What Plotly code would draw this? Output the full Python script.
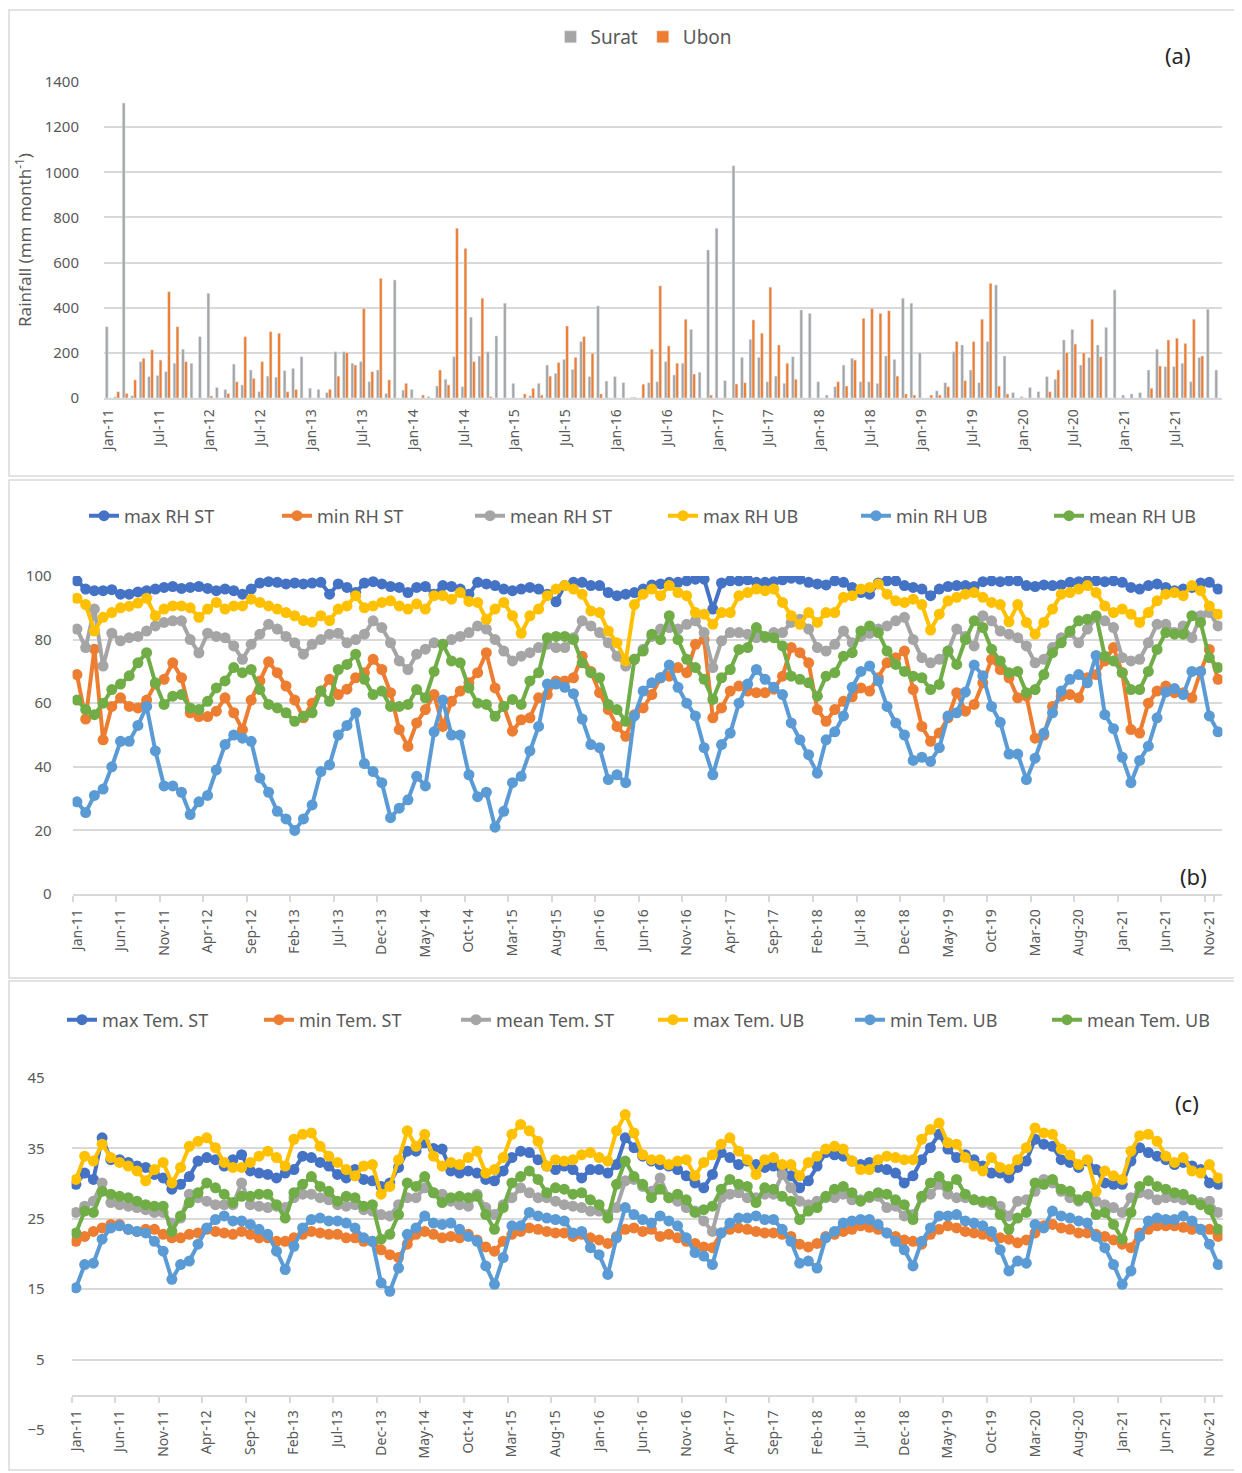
import plotly.graph_objects as go

# page is 1242x1473; the html body adds an 8px margin, so the figure is 8px smaller
# and all pixel positions below are given in page pixels
OFF = 8
W, H = 1242 - OFF, 1473 - OFF

mon_names = ["Jan", "Feb", "Mar", "Apr", "May", "Jun", "Jul", "Aug", "Sep", "Oct", "Nov", "Dec"]
months = [f"{m}-{y}" for y in range(11, 22) for m in mon_names]

# (a) monthly rainfall, mm
rain_surat = [316, 5, 1307, 10, 161, 95, 100, 117, 154, 216, 154, 272,
              464, 47, 38, 150, 58, 124, 28, 97, 92, 121, 131, 183,
              43, 38, 24, 205, 205, 154, 161, 72, 124, 20, 523, 35,
              38, 0, 6, 53, 83, 183, 50, 358, 186, 205, 275, 420,
              65, 0, 10, 65, 146, 109, 171, 127, 250, 95, 408, 75,
              95, 68, 3, 0, 68, 72, 161, 102, 154, 304, 114, 656,
              752, 77, 1029, 180, 260, 180, 72, 97, 65, 183, 390, 375,
              72, 13, 50, 146, 176, 72, 72, 65, 186, 171, 442, 420,
              201, 0, 32, 68, 205, 235, 124, 68, 250, 501, 186, 24,
              6, 47, 28, 95, 83, 257, 304, 146, 180, 235, 313, 479,
              13, 18, 24, 124, 216, 139, 139, 154, 72, 180, 393, 124]
rain_ubon = [0, 28, 20, 80, 176, 213, 168, 471, 316, 161, 0, 0,
             9, 0, 20, 72, 272, 87, 161, 294, 287, 28, 38, 0,
             0, 0, 38, 97, 201, 146, 397, 117, 530, 80, 0, 65,
             0, 13, 0, 124, 58, 752, 663, 161, 442, 6, 0, 0,
             0, 18, 43, 13, 97, 157, 319, 180, 272, 198, 18, 0,
             0, 0, 3, 61, 216, 497, 231, 154, 349, 106, 0, 13,
             0, 0, 62, 68, 346, 287, 491, 235, 154, 83, 0, 0,
             0, 0, 72, 53, 168, 353, 397, 375, 387, 97, 18, 13,
             0, 13, 13, 50, 250, 77, 250, 349, 508, 53, 18, 0,
             0, 0, 0, 28, 124, 201, 239, 201, 349, 183, 0, 0,
             0, 0, 0, 43, 142, 257, 265, 242, 349, 186, 0, 0]

# (b) relative humidity, %
max_rh_st = [98.5, 95.9, 95.4, 95.4, 95.7, 94.3, 94.3, 95, 95.4, 95.9, 96.4, 96.7,
             96.1, 96.4, 96.7, 96.1, 95.4, 95.9, 95.4, 94.3, 95.9, 97.8, 98.2, 98,
             97.5, 97.8, 97.5, 97.8, 98, 94.3, 97.5, 96.4, 94.8, 97.8, 98.2, 97.5,
             96.7, 96.4, 94.8, 96.4, 96.7, 94.3, 97, 96.7, 95.9, 94.3, 98, 97.5,
             97, 95.9, 95.4, 95.9, 96.4, 95.9, 94.3, 91.9, 97, 98, 98, 97,
             97, 94.8, 93.8, 94.3, 94.8, 95.9, 97.2, 97.5, 98, 98, 98.5, 99,
             99, 89.6, 97.8, 98.5, 98.5, 98.8, 98, 98, 98.2, 98.8, 99.3, 99,
             98, 97.5, 97.2, 98.5, 98, 96.4, 94.8, 94.3, 97.8, 98.5, 98.5, 97,
             96.4, 95.9, 93.8, 95.9, 96.7, 97, 97, 96.7, 98.2, 98.5, 98.2, 98.5,
             98.5, 97, 96.7, 97.2, 97, 97.2, 98, 98.2, 98.5, 98.5, 98.2, 98.5,
             98, 96.4, 95.9, 97, 97.5, 96.4, 95.4, 95.9, 96.4, 97.8, 98, 95.9]
min_rh_st = [69, 55, 77, 48.5, 59, 61.7, 59, 58.5, 61, 66, 67.5, 72.7,
             68, 57, 55.8, 55.8, 57.5, 61.7, 57, 51.7, 61, 67, 73, 69.6,
             65.4, 61, 55.4, 60, 63.8, 67.5, 62.7, 64.4, 68, 69.6, 73.8, 70.6,
             63.3, 51.7, 46.4, 53.8, 58, 62.7, 52.7, 60.6, 63.8, 66.4, 69.6, 75.9,
             64.8, 59, 51.2, 54.8, 55.4, 61.7, 62.7, 67, 67, 68, 74.8, 70,
             63.3, 58, 52.7, 49.6, 56.4, 58.5, 62.7, 68, 68.5, 71.2, 69.6, 78.5,
             80, 55.4, 58.5, 63.8, 65.4, 63.8, 63.3, 63.3, 64.4, 68.5, 77.5, 75.9,
             72.7, 58, 54.3, 58, 60.6, 62, 64.8, 63.8, 68, 72.7, 74.3, 76.4,
             64.3, 52.7, 48, 50.6, 55.4, 63.3, 57.5, 59.6, 66.4, 73.8, 70.6, 68,
             61.7, 62.2, 49, 50, 59, 62.2, 62.7, 61.7, 68, 69, 73.3, 77.5,
             69.6, 51.7, 50.6, 60, 63.8, 65.4, 63.3, 63.3, 61.7, 70, 76.9, 67.5]
mean_rh_st = [83.3, 77.5, 89.6, 71.7, 82, 79.6, 80.6, 81, 82.7, 84.3, 85.4, 85.9,
              85.9, 80, 75.8, 82, 81, 80.6, 78, 73.8, 78.5, 81.7, 84.8, 83.3,
              81, 79, 75.4, 78.5, 80, 81.7, 82, 79, 80, 81.7, 85.9, 83.8,
              79, 73.3, 70.6, 75.4, 77, 79, 78.5, 80, 81, 82.2, 84.3, 83.3,
              80, 76.4, 73.3, 74.8, 75.9, 77.5, 78.5, 77.5, 77.5, 80.6, 85.9, 84.3,
              82.2, 79, 74.8, 71.7, 73.8, 77, 81, 83.3, 83.8, 83.3, 84.8, 85.9,
              82.2, 71.2, 79.6, 82.2, 82.2, 81.7, 80.6, 80.6, 82.2, 82.2, 85.4, 86.4,
              83.3, 77.5, 76.4, 78.5, 82.7, 79, 81, 82, 83.3, 84.3, 85.9, 87,
              80, 74.3, 72.7, 73.8, 76.4, 83.3, 81, 78, 87.5, 85.9, 82.7, 81.7,
              80.6, 78, 72.7, 73.8, 77.5, 80.6, 82.2, 79, 83.3, 87, 85.9, 83.8,
              74.3, 73.3, 73.8, 79, 84.8, 84.8, 82.2, 84.3, 80.6, 87.5, 88.5, 84.3]
max_rh_ub = [93, 91, 82.7, 87, 88.5, 90, 90.5, 91.5, 93, 87.5, 89.6, 90.6,
             90.6, 90, 87, 89.6, 91.7, 89.6, 90.6, 90.6, 92.7, 91.7, 90.6, 89.6,
             88.5, 87.5, 86, 85.5, 87.5, 86, 89.6, 90.6, 93.8, 90, 90.6, 91.7,
             92.2, 90.6, 89.6, 91.2, 89.6, 93.8, 93.8, 92.7, 94.8, 92, 91.7, 86.4,
             89.6, 91.7, 87.5, 82, 87.5, 89.6, 93.8, 95.9, 97, 95.9, 94.3, 89,
             88.5, 82.7, 79, 73.3, 91, 94.3, 95.9, 93.8, 97, 94.8, 93.8, 88.5,
             88, 84.8, 88.5, 88.5, 93.8, 94.8, 95.9, 95.4, 95.9, 91.7, 87.5, 84.8,
             88.5, 85.4, 88.5, 88.5, 93.3, 93.8, 95.9, 96.4, 97.5, 94.3, 92.2, 91.7,
             92.7, 91, 83, 88, 92.2, 93.3, 94.3, 94.8, 93.3, 91.7, 91, 85.6,
             91, 85.4, 81.7, 85.4, 89.6, 94.3, 94.8, 95.9, 97, 94.8, 90.6, 88.5,
             89.6, 88, 85.4, 88.5, 92.2, 94.3, 94.8, 93.8, 97, 95.4, 90.6, 88]
min_rh_ub = [29, 25.6, 31, 33, 40, 48, 48, 53, 59, 45, 34, 34,
             32, 25, 29, 31, 39, 47, 50, 49, 48, 36.5, 32, 26,
             23.6, 20, 23.6, 28, 38.5, 40.6, 50, 53, 57, 41, 38.5, 35,
             24, 27, 29.6, 37, 34, 51, 61, 50, 50, 37.5, 30.6, 32,
             21, 26, 35, 37, 45, 52.7, 66, 66, 65, 63, 55, 47,
             46, 36, 37.5, 35, 56, 63.8, 66.4, 68, 72, 65, 60, 56,
             46, 37.5, 47, 50.6, 60, 66, 70.6, 67.5, 65, 62.7, 53.8, 48.5,
             43.8, 38, 48.5, 51, 56, 65, 70, 71.7, 67, 59, 53.8, 50,
             42, 43, 41.7, 46, 56, 57, 63.5, 72, 68.6, 59, 54, 44,
             44, 36, 42.7, 50.6, 57, 63.8, 67.5, 69, 66.4, 75, 56.4, 52,
             43, 35, 42, 46.5, 55.4, 63.5, 64.6, 62.7, 70, 70, 56, 51]
mean_rh_ub = [61, 58, 56.4, 60, 64.3, 66, 68.6, 72.7, 75.9, 66.4, 59.6, 62.2,
              62.7, 58.5, 58, 60.6, 64.8, 67, 71.2, 69.6, 70.6, 64.3, 59.6, 58.5,
              57, 54.3, 55.9, 57, 63.8, 60.6, 70.6, 72.2, 75.4, 67.5, 62.7, 63.8,
              59, 59, 59.6, 64.3, 61.7, 70, 78.5, 73.3, 72.7, 64.8, 60, 59.6,
              55.9, 59, 61.2, 59.6, 67, 69.6, 80.6, 81, 81, 80, 72.7, 69.6,
              68, 59.6, 58, 54.3, 73.8, 76.4, 81.7, 80, 87.5, 80, 73.8, 71.2,
              67.5, 61.2, 68, 70.6, 76.9, 77.5, 83.8, 81, 80.6, 78, 68.5, 67.5,
              66.4, 62.2, 68.5, 69.6, 74.8, 75.9, 82.7, 84.3, 82.2, 76.4, 72.2, 70,
              68.5, 68, 64.3, 65.9, 76.4, 72.2, 80, 85.9, 83.8, 77, 73.3, 69.6,
              70, 63.3, 64.3, 69, 75.9, 79, 82.7, 85.9, 86.4, 87.5, 74.8, 73.3,
              69.6, 64.3, 64.3, 70, 76.9, 82.2, 81.7, 81.7, 87.5, 85.4, 74.3, 71.2]

# (c) air temperature, degC
max_tem_st = [29.9, 31.5, 30.6, 36.5, 33.4, 33.4, 33, 32.5, 32.3, 31.3, 30.8, 29.2,
              29.9, 31, 33.2, 33.7, 33.4, 32.5, 33.4, 34.1, 31.8, 31.5, 31.3, 30.8,
              31.5, 32, 33.9, 33.7, 33, 32.5, 31.3, 30.8, 32, 30.6, 30.4, 29.6,
              30.1, 32.3, 34.6, 34.6, 35.8, 35, 34.9, 31.8, 31.5, 31.8, 31.5, 30.6,
              30.4, 31.8, 33.7, 34.6, 34.4, 33.4, 32.5, 32, 32.5, 32, 30.8, 32,
              32, 31.5, 32.7, 36.5, 35.1, 33.9, 33.2, 32.7, 32.5, 32, 31.1, 30.1,
              29.4, 31.3, 34.4, 33.7, 32.7, 33.2, 32.7, 32.3, 32.5, 32, 31.1, 29.4,
              30.4, 32.5, 34.4, 34.1, 33.9, 33.2, 32.7, 33, 32.3, 32, 31.5, 30.1,
              31.1, 33.4, 35.1, 37, 34.9, 33.7, 34.1, 33.4, 32.5, 31.5, 31.5, 30.8,
              32.3, 33.2, 36.3, 35.6, 35.3, 33.4, 33, 32.3, 33.2, 32, 30.1, 29.9,
              29.9, 33.2, 35.1, 34.4, 33.9, 33.4, 32.7, 33, 32.5, 32, 30.1, 29.9]
min_tem_st = [21.8, 22.5, 23.2, 23.7, 24.2, 24.2, 23.5, 23.2, 23.5, 23.5, 22.8, 22.3,
              22.3, 22.8, 23, 23.5, 23.2, 23, 22.8, 23.2, 22.8, 22.3, 22.3, 21.8,
              21.8, 22.3, 22.8, 23.2, 23, 22.8, 22.8, 22.3, 22.3, 21.8, 21.8, 20.6,
              19.9, 19.5, 21.4, 22.8, 23.2, 22.8, 22.3, 22.5, 22.3, 22.8, 22, 21,
              20.4, 21.8, 22.8, 23.2, 23.7, 23.5, 23.2, 23, 23, 22.5, 22.8, 22.3,
              22, 21.5, 22.5, 23.5, 23.7, 23.2, 23.5, 22.5, 22.8, 22.3, 21.8, 21.5,
              21, 20.9, 23, 23.5, 23.7, 23.5, 23.2, 23, 23, 22.8, 22.5, 21.4,
              21, 21.5, 22.5, 22.8, 23.2, 23.5, 24, 23.8, 23.5, 23, 22.5, 22,
              21.8, 21.4, 22.8, 23.5, 24, 23.7, 23.2, 23, 22.8, 22.5, 22.3, 22.1,
              21.6, 22, 23, 24, 24.2, 23.7, 23.5, 23, 23, 22.8, 22.5, 22,
              21.4, 20.9, 23, 23.5, 24, 24, 24, 23.8, 23.5, 23.5, 23.5, 22.5]
mean_tem_st = [25.9, 26.8, 27.5, 30.1, 27.3, 27, 26.8, 26.6, 26.3, 25.9, 25.9, 24.4,
               25.1, 28.5, 28, 27.5, 27, 27, 27, 30.1, 27, 26.8, 26.6, 26.8,
               26.6, 28, 28.5, 28.5, 28, 27.7, 27, 26.8, 27, 26.3, 26.1, 25.6,
               25.4, 27, 28, 28, 29.4, 28.7, 28.5, 27.5, 27, 26.8, 28.5, 26.6,
               25.6, 27, 28, 29.4, 28.7, 28, 28, 27.5, 27, 26.8, 26.6, 26.1,
               26.1, 25.6, 26.6, 30.4, 30.6, 29.6, 28.9, 30.8, 28, 27.5, 26.6, 26.1,
               24.7, 23.2, 28, 28.5, 28.7, 28, 28, 28.5, 28.5, 31.3, 29.4, 27.5,
               27, 27.5, 28, 28, 28.5, 27.7, 27.7, 28, 28.2, 26.6, 26.8, 25.4,
               25.6, 28, 28.5, 29.9, 28.5, 28, 28, 27.7, 27.3, 27, 26.8, 25.4,
               27.5, 27.7, 28.9, 30.6, 30.1, 28.9, 28, 27.5, 28, 27.5, 27, 26.6,
               25.9, 28, 28.7, 28.5, 27.7, 28, 28, 27.7, 27.7, 27.3, 27.5, 25.9]
max_tem_ub = [30.6, 33.9, 33.2, 35.6, 33.7, 33, 32.5, 31.8, 30.4, 32, 33, 30.1,
              32.3, 35.3, 36, 36.5, 35.1, 33, 32.3, 32.3, 33, 33.9, 34.6, 33.7,
              32.5, 36.3, 37, 37.2, 35.3, 33.9, 33, 32, 31.1, 32.5, 32.7, 28.5,
              29.6, 33.4, 37.5, 35.3, 37, 33.9, 32.5, 33, 32.7, 33.7, 34.6, 31.5,
              32, 33.7, 37, 38.4, 37.5, 36, 32.5, 33.4, 33.2, 33.4, 34.1, 34.4,
              33.7, 33.2, 37.5, 39.8, 37.2, 34.1, 33.4, 33.4, 32.7, 33.2, 33.4, 31.1,
              33, 34.1, 35.6, 36.5, 34.6, 33.4, 31.3, 33.4, 33.7, 32.7, 32.7, 31.1,
              33, 33.9, 34.9, 35.3, 34.9, 33.2, 32, 32, 33.4, 33.9, 33.7, 33.4,
              33.4, 36.3, 37.7, 38.6, 35.8, 35.6, 33.7, 32.5, 31.8, 33.7, 32.3, 32,
              33.4, 35.1, 37.9, 37.2, 37, 34.9, 34.1, 32.7, 33.4, 28.9, 31.8, 31.1,
              30.6, 34.6, 36.8, 37, 36, 33.9, 33, 33.7, 31.8, 31.5, 32.7, 30.8]
min_tem_ub = [15.2, 18.5, 18.7, 22.1, 23.7, 24, 23.5, 23.2, 23, 21.8, 20.4, 16.4,
              18.5, 19, 21.4, 23.7, 24.9, 25.4, 24.7, 24.7, 24.2, 23.5, 22.8, 20.4,
              17.8, 21.1, 23.7, 24.9, 25.1, 24.7, 24.7, 24.4, 23.7, 22.3, 21.8, 15.9,
              14.7, 18, 22.8, 23.7, 25.4, 24.4, 24.2, 24.4, 23.5, 22.5, 21.8, 18.3,
              15.7, 19.5, 24, 24, 25.9, 25.4, 25.1, 24.9, 24.7, 23, 23.2, 20.9,
              19.9, 17.1, 22.3, 26.6, 25.6, 24.9, 24.4, 25.4, 24.7, 24, 22.3, 20.2,
              19.7, 18.5, 23, 24.4, 25.1, 25.1, 25.4, 24.9, 24.9, 23.5, 21.8, 18.7,
              19, 18, 22.3, 23.2, 24.4, 24.7, 24.9, 24.9, 24.2, 23, 21.8, 20.6,
              18.3, 21.8, 23.7, 25.4, 25.4, 25.6, 24.7, 24.4, 24, 23.2, 20.6, 17.6,
              19, 18.7, 24.2, 23.7, 26.1, 25.4, 25.1, 24.7, 24.4, 22.5, 20.9, 18.5,
              15.7, 17.6, 22.5, 24.7, 25.1, 24.9, 24.9, 25.4, 24.7, 23.5, 21.4, 18.5]
mean_tem_ub = [23, 26.1, 25.9, 28.9, 28.5, 28.2, 28, 27.5, 27, 26.8, 26.8, 23.2,
               25.4, 27.3, 28.7, 30.1, 29.4, 28.5, 27.3, 28.2, 28.2, 28.5, 28.5, 27,
               25.1, 28.7, 29.9, 31, 29.6, 28.9, 27.5, 28.2, 28, 26.8, 27, 22.1,
               22.8, 25.6, 30.1, 29.6, 31, 28.7, 27.3, 28, 28.2, 28, 28.2, 25.6,
               23.5, 26.6, 30.1, 31, 31.8, 30.6, 28.7, 29.4, 29.2, 28.5, 28.7, 27.7,
               27, 25.1, 29.9, 33.2, 31, 29.9, 28, 29.2, 28, 28.5, 27.7, 25.9,
               26.3, 26.8, 29.2, 30.6, 29.9, 29.6, 27.3, 29.4, 29.2, 28.2, 27.5, 24.9,
               26.1, 26.6, 28.2, 29.2, 29.6, 28.7, 27.5, 28.2, 28.7, 28.5, 27.7, 27,
               24.9, 28.2, 30.1, 31, 29.6, 30.6, 28.5, 27.7, 27.5, 27.5, 25.6, 23.5,
               25.1, 25.9, 30.1, 29.9, 30.6, 29.2, 28.9, 27.7, 28.2, 25.6, 25.9, 24.2,
               22.1, 25.9, 29.6, 30.4, 29.6, 29.2, 28.7, 28.5, 27.7, 27, 26.3, 23.5]

BLUE, ORANGE, GRAY = "#4472C4", "#ED7D31", "#A5A5A5"
YELLOW, LBLUE, GREEN = "#FFC000", "#5B9BD5", "#70AD47"
TXT = "#595959"
GRID = "#D9D9D9"
FONT = "Noto Sans"


def px(x):
    return (x - OFF) / W


def py(y):
    return 1 - (y - OFF) / H


fig = go.Figure()

fig.add_trace(go.Bar(x=months, y=rain_surat, name="Surat", marker_color=GRAY,
                     xaxis="x", yaxis="y", legend="legend"))
fig.add_trace(go.Bar(x=months, y=rain_ubon, name="Ubon", marker_color=ORANGE,
                     xaxis="x", yaxis="y", legend="legend"))

rh = [("max RH ST", max_rh_st, BLUE), ("min RH ST", min_rh_st, ORANGE),
      ("mean RH ST", mean_rh_st, GRAY), ("max RH UB", max_rh_ub, YELLOW),
      ("min RH UB", min_rh_ub, LBLUE), ("mean RH UB", mean_rh_ub, GREEN)]
for name, vals, col in rh:
    fig.add_trace(go.Scatter(x=months, y=vals, name=name, mode="lines+markers",
                             line=dict(color=col, width=4), marker=dict(color=col, size=11),
                             xaxis="x2", yaxis="y2", legend="legend2"))

tem = [("max Tem. ST", max_tem_st, BLUE), ("min Tem. ST", min_tem_st, ORANGE),
       ("mean Tem. ST", mean_tem_st, GRAY), ("max Tem. UB", max_tem_ub, YELLOW),
       ("min Tem. UB", min_tem_ub, LBLUE), ("mean Tem. UB", mean_tem_ub, GREEN)]
for name, vals, col in tem:
    fig.add_trace(go.Scatter(x=months, y=vals, name=name, mode="lines+markers",
                             line=dict(color=col, width=4), marker=dict(color=col, size=11),
                             xaxis="x3", yaxis="y3", legend="legend3"))

xcommon = dict(type="category", categoryorder="array", categoryarray=months,
               tickangle=-90, showgrid=False, showline=True, linecolor=GRID, linewidth=1.5,
               tickfont=dict(size=14, color=TXT), automargin=False, range=[-0.5, 131.5])
xticks = dict(ticks="outside", ticklen=6, tickwidth=1.5, tickcolor=GRID, tickson="boundaries",
              ticklabelstandoff=8)
ycommon = dict(showgrid=True, gridcolor=GRID, gridwidth=1.5, zeroline=False, showline=False,
               ticks="", tickfont=dict(size=15, color=TXT), automargin=False)

fig.update_layout(
    width=W, height=H,
    margin=dict(l=0, r=0, t=0, b=0, autoexpand=False),
    paper_bgcolor="white", plot_bgcolor="white",
    font=dict(family=FONT, color=TXT),
    barmode="group", bargap=0.3, bargroupgap=0.05,
    showlegend=True,
    xaxis=dict(xcommon, domain=[px(104), px(1222)], anchor="y", ticks="",
               tickvals=months[::6], ticklabelstandoff=4),
    yaxis=dict(ycommon, domain=[py(398), py(82)], anchor="x", range=[0, 1400], dtick=200,
               ticklabelstandoff=24,
               title=dict(text="Rainfall (mm month<sup>-1</sup>)", font=dict(size=17, color=TXT),
                          standoff=8)),
    xaxis2=dict(xcommon, **xticks, domain=[px(72.6), px(1222.4)], anchor="y2",
                tickvals=months[::5]),
    yaxis2=dict(ycommon, domain=[py(894), py(576)], anchor="x2", range=[0, 100], dtick=20,
                ticklabelstandoff=20),
    # the temperature category axis crosses the value axis at 0, as in the original
    xaxis3=dict(xcommon, **xticks, domain=[px(71.6), px(1222.5)], anchor="free",
                position=py(1396), tickvals=months[::5]),
    yaxis3=dict(ycommon, domain=[py(1430), py(1078)], anchor="x3", range=[-5, 45],
                tick0=-5, dtick=10, ticklabelstandoff=26),
    legend=dict(orientation="h", x=px(644), xanchor="center", y=py(37), yanchor="middle",
                font=dict(size=19, color=TXT), bgcolor="rgba(0,0,0,0)"),
    legend2=dict(orientation="h", x=px(84), xanchor="left", y=py(516), yanchor="middle",
                 font=dict(size=18, color=TXT), entrywidth=148, bgcolor="rgba(0,0,0,0)"),
    legend3=dict(orientation="h", x=px(62), xanchor="left", y=py(1020), yanchor="middle",
                 font=dict(size=18, color=TXT), entrywidth=152, bgcolor="rgba(0,0,0,0)"),
    shapes=[
        dict(type="rect", xref="paper", yref="paper", x0=px(9), x1=px(1240), y0=py(476), y1=py(10),
             line=dict(color=GRID, width=1.5), fillcolor="rgba(0,0,0,0)", layer="below"),
        dict(type="rect", xref="paper", yref="paper", x0=px(9), x1=px(1240), y0=py(978), y1=py(480),
             line=dict(color=GRID, width=1.5), fillcolor="rgba(0,0,0,0)", layer="below"),
        dict(type="rect", xref="paper", yref="paper", x0=px(9), x1=px(1240), y0=py(1470), y1=py(981),
             line=dict(color=GRID, width=1.5), fillcolor="rgba(0,0,0,0)", layer="below"),
    ],
    annotations=[
        dict(text="(a)", xref="paper", yref="paper", x=px(1178), y=py(55), showarrow=False,
             xanchor="center", yanchor="middle", font=dict(size=22, color="#262626")),
        dict(text="(b)", xref="paper", yref="paper", x=px(1193), y=py(876), showarrow=False,
             xanchor="center", yanchor="middle", font=dict(size=22, color="#262626")),
        dict(text="(c)", xref="paper", yref="paper", x=px(1187), y=py(1103), showarrow=False,
             xanchor="center", yanchor="middle", font=dict(size=22, color="#262626")),
    ],
)

fig.write_html("out.html")
